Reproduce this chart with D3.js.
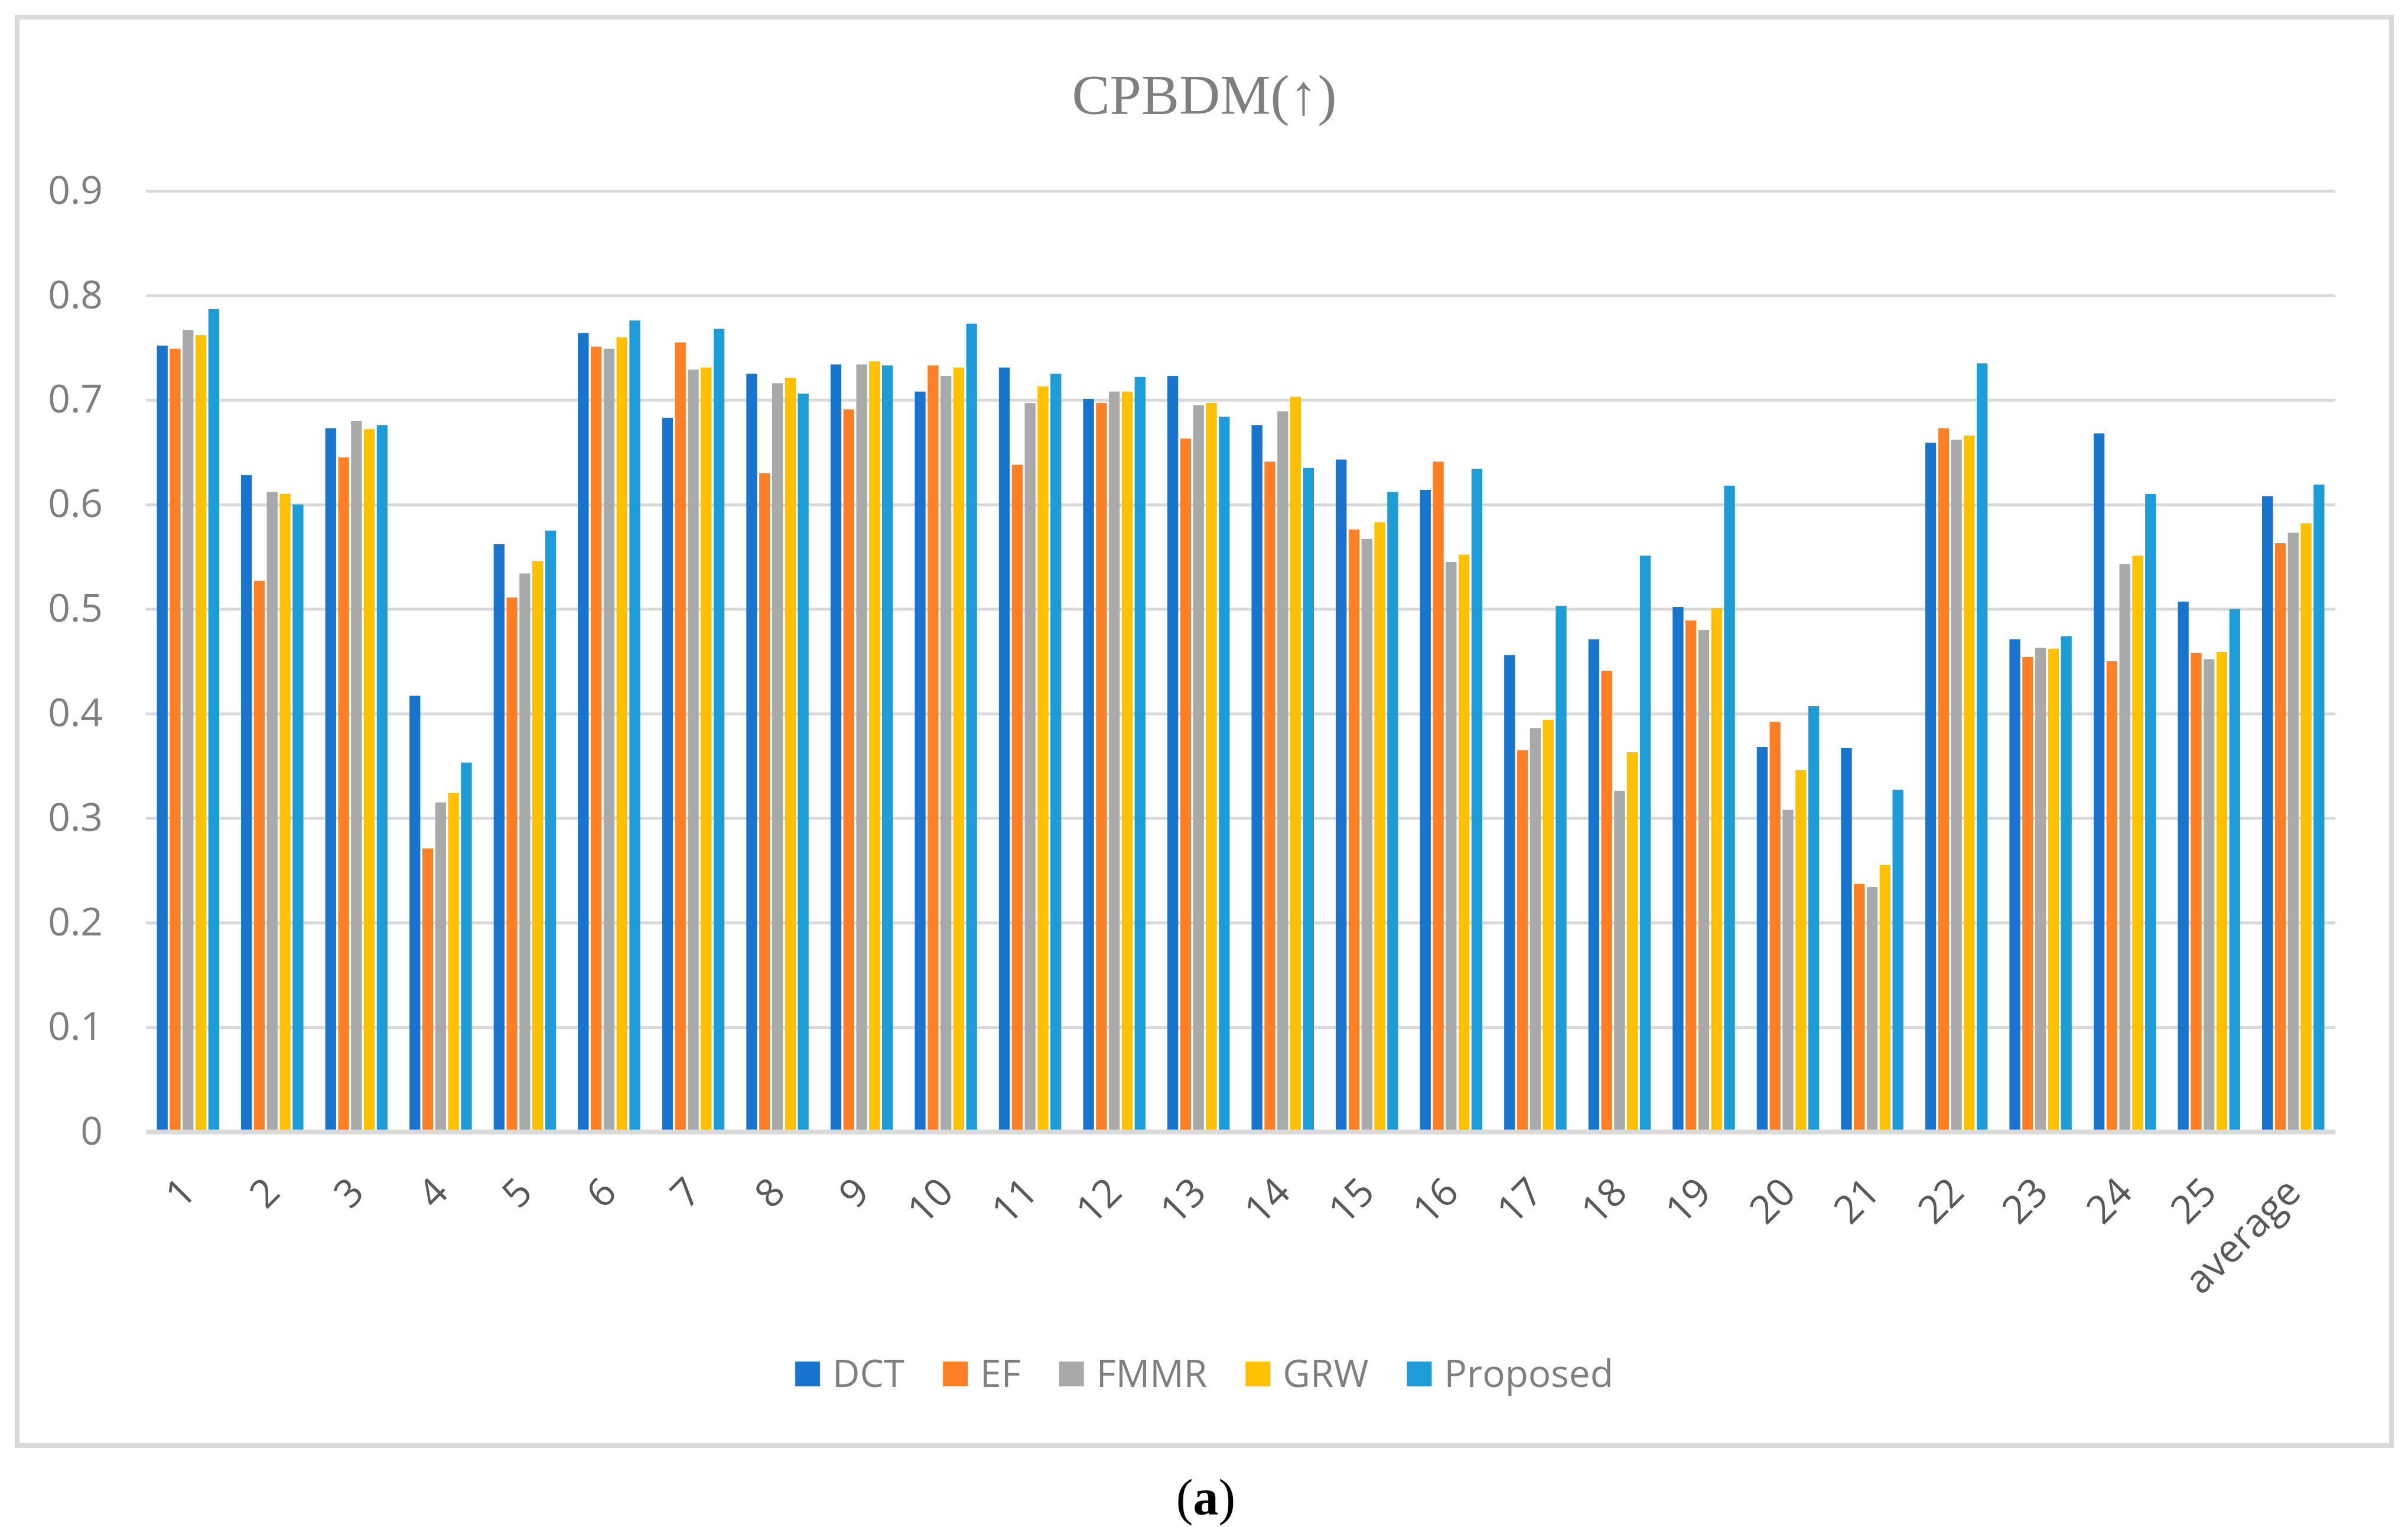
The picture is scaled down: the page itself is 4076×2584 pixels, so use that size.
<!DOCTYPE html>
<html><head><meta charset="utf-8">
<script src="https://cdn.jsdelivr.net/npm/d3@7"></script>
<style>body{margin:0;background:#fff}</style>
</head><body>
<svg id="chart" width="4076" height="2584"></svg>
<script>
const categories = ["1","2","3","4","5","6","7","8","9","10","11","12","13","14","15","16","17","18","19","20","21","22","23","24","25","average"];
const seriesNames = ["DCT","EF","FMMR","GRW","Proposed"];
const DCT      = [0.752,0.628,0.673,0.417,0.562,0.764,0.683,0.725,0.734,0.708,0.731,0.701,0.723,0.676,0.643,0.614,0.456,0.471,0.502,0.368,0.367,0.659,0.471,0.668,0.507,0.608];
const EF       = [0.749,0.527,0.645,0.271,0.511,0.751,0.755,0.630,0.691,0.733,0.638,0.697,0.663,0.641,0.576,0.641,0.365,0.441,0.489,0.392,0.237,0.673,0.454,0.450,0.458,0.563];
const FMMR     = [0.767,0.612,0.680,0.315,0.534,0.749,0.729,0.716,0.734,0.723,0.697,0.708,0.695,0.689,0.567,0.545,0.386,0.326,0.480,0.308,0.234,0.662,0.463,0.543,0.452,0.573];
const GRW      = [0.762,0.610,0.672,0.324,0.546,0.760,0.731,0.721,0.737,0.731,0.713,0.708,0.697,0.703,0.583,0.552,0.394,0.363,0.501,0.346,0.255,0.666,0.462,0.551,0.459,0.582];
const Proposed = [0.787,0.600,0.676,0.353,0.575,0.776,0.768,0.706,0.733,0.773,0.725,0.722,0.684,0.635,0.612,0.634,0.503,0.551,0.618,0.407,0.327,0.735,0.474,0.610,0.500,0.619];
const yTicks = [0,0.1,0.2,0.3,0.4,0.5,0.6,0.7,0.8,0.9];
const yTickLabels = ["0","0.1","0.2","0.3","0.4","0.5","0.6","0.7","0.8","0.9"];
const titleText = "CPBDM(\u2191)";
const colors = ["#1874CD","#FF7F27","#A9A9A9","#FFC000","#1E9CD8"];

const seriesValues = [DCT, EF, FMMR, GRW, Proposed];
const svg = d3.select("#chart");
const W = 4076, H = 2584;
const plot = {left: 247, right: 3953, top: 323, bottom: 1915};
const chartBox = {x: 29, y: 29, x2: 4048, y2: 2446};
const cx = (chartBox.x + chartBox.x2) / 2;
const sans = "'Open Sans', 'Noto Sans', sans-serif";

svg.append("rect").attr("width", W).attr("height", H).attr("fill", "#fff");
svg.append("rect").attr("x", chartBox.x).attr("y", chartBox.y)
  .attr("width", chartBox.x2 - chartBox.x).attr("height", chartBox.y2 - chartBox.y)
  .attr("fill", "#fff").attr("stroke", "#d9d9d9").attr("stroke-width", 8);

const y = d3.scaleLinear().domain([0, 0.9]).range([plot.bottom, plot.top]);
const x0 = d3.scaleBand().domain(categories).range([plot.left, plot.right]).paddingInner(0.26).paddingOuter(0.13);
const x1 = d3.scaleBand().domain(seriesNames).range([0, x0.bandwidth()]).paddingInner(0.16);

// gridlines + y labels
const yAxis = d3.axisLeft(y).tickValues(yTicks).tickFormat((d, i) => yTickLabels[i])
  .tickSize(-(plot.right - plot.left)).tickPadding(plot.left - 174);
const gy = svg.append("g").attr("transform", `translate(${plot.left},0)`).call(yAxis);
gy.select(".domain").remove();
gy.selectAll(".tick line").attr("stroke", "#d9d9d9").attr("stroke-width", 5)
  .attr("display", d => d === 0 ? "none" : null);
gy.selectAll(".tick text").attr("font-family", sans).attr("font-size", 66).attr("fill", "#7f7f7f");

// bars
const groups = svg.append("g").selectAll("g").data(categories).join("g")
  .attr("transform", d => `translate(${x0(d)},0)`);
groups.selectAll("rect").data((d, i) => seriesNames.map((s, k) => ({s, k, v: seriesValues[k][i]})))
  .join("rect")
  .attr("x", d => x1(d.s)).attr("width", x1.bandwidth())
  .attr("y", d => y(d.v)).attr("height", d => y(0) - y(d.v))
  .attr("fill", d => colors[d.k]);

// x axis
const xAxis = d3.axisBottom(x0).tickSize(0).tickSizeOuter(0);
const gx = svg.append("g").attr("transform", `translate(0,${plot.bottom})`).call(xAxis);
gx.select(".domain").attr("stroke", "#d9d9d9").attr("stroke-width", 8);
gx.selectAll(".tick text").attr("font-family", sans).attr("font-size", 66).attr("fill", "#595959")
  .attr("text-anchor", "end").attr("y", 0).attr("dy", "0.35em")
  .attr("transform", "translate(0,90) rotate(-45)");

// title
svg.append("text").attr("x", cx).attr("y", 193).attr("text-anchor", "middle")
  .attr("font-family", "'Liberation Serif', 'Times New Roman', serif").attr("font-size", 96)
  .attr("fill", "#7f7f7f").text(titleText);

// legend
const legend = svg.append("g");
const items = legend.selectAll("g").data(seriesNames).join("g");
items.append("rect").attr("width", 42).attr("height", 42).attr("y", -21).attr("fill", (d, i) => colors[i]);
items.append("text").attr("x", 63).attr("dy", "0.35em").attr("font-family", sans).attr("font-size", 64)
  .attr("fill", "#7f7f7f").text(d => d);
let off = 0; const offs = [];
items.each(function(d) { offs.push(off); off += this.getBBox().width + 65; });
const total = off - 65;
items.attr("transform", (d, i) => `translate(${cx - total / 2 + offs[i]},2325)`);

// caption
const cap = svg.append("text").attr("x", 2041).attr("y", 2563).attr("text-anchor", "middle")
  .attr("font-family", "'Liberation Serif', 'Times New Roman', serif").attr("font-size", 86).attr("fill", "#000");
cap.append("tspan").text("(");
cap.append("tspan").attr("font-weight", "bold").text("a");
cap.append("tspan").text(")");
</script>
</body></html>
